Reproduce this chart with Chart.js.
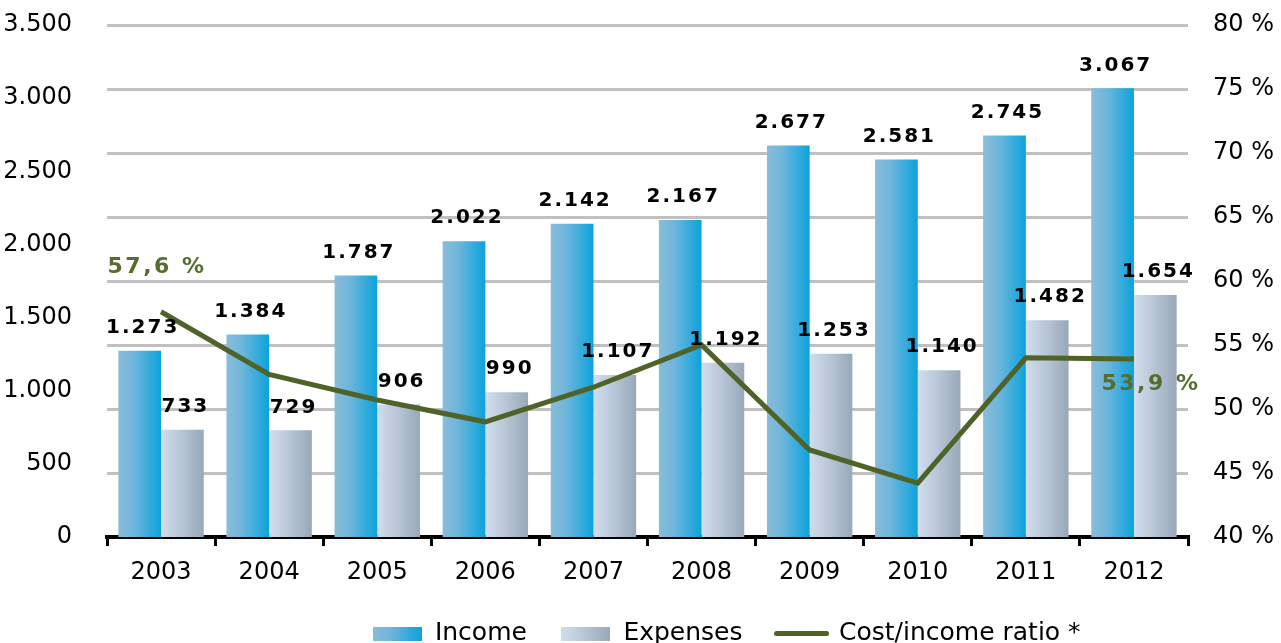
<!DOCTYPE html>
<html>
<head>
<meta charset="utf-8">
<title>Income, expenses and cost/income ratio 2003–2012</title>
<script src="https://cdn.jsdelivr.net/npm/chart.js@4.4.1/dist/chart.umd.min.js"></script>
<style>
  html, body { margin: 0; padding: 0; background: #fff; overflow: hidden; }
  #wrap { width: 1281px; height: 663px; }
</style>
</head>
<body>
<div id="wrap"><canvas id="chart"></canvas></div>
<script>
// --- data ---
const years = ['2003', '2004', '2005', '2006', '2007', '2008', '2009', '2010', '2011', '2012'];
const income = [1273, 1384, 1787, 2022, 2142, 2167, 2677, 2581, 2745, 3067];
const expenses = [733, 729, 906, 990, 1107, 1192, 1253, 1140, 1482, 1654];
const costIncomeRatio = [57.6, 52.7, 50.7, 49.0, 51.7, 55.0, 46.8, 44.2, 54.0, 53.9];
const amountTicks = [0, 500, 1000, 1500, 2000, 2500, 3000, 3500];
const ratioTicks = [40, 45, 50, 55, 60, 65, 70, 75, 80];
const seriesNames = ['Income', 'Expenses', 'Cost/income ratio *'];

// --- styling ---
const FONT = "'DejaVu Sans', Verdana, sans-serif";
const OLIVE = '#4f6228';
const OLIVE_TEXT = '#576d2e';
const CAT_PCT = 0.79;
const INCOME_STOPS = [[0, '#88bdd9'], [0.35, '#70b6db'], [1, '#0ba3dc']];
const EXPENSE_STOPS = [[0, '#d0ddec'], [0.4, '#bccadb'], [1, '#98a8b9']];

const fmtAmount = v => String(v).replace(/\B(?=(\d{3})+(?!\d))/g, '.');
const fmtPct = v => v.toFixed(1).replace('.', ',') + ' %';

// horizontal gradient across each single bar
function barFill(stops, side) {
  return ctx => {
    const chart = ctx.chart;
    const x = chart.scales.x;
    if (!chart.chartArea || !x || ctx.dataIndex === undefined) return stops[stops.length - 1][1];
    const center = x.getPixelForValue(ctx.dataIndex);
    const w = (x.width / years.length) * CAT_PCT / 2;
    const left = side === 0 ? center - w : center;
    const g = chart.ctx.createLinearGradient(left, 0, left + w, 0);
    stops.forEach(([o, c]) => g.addColorStop(o, c));
    return g;
  };
}

function swatch(stops) {
  const cv = document.createElement('canvas');
  cv.width = 49; cv.height = 14;
  const c = cv.getContext('2d');
  const g = c.createLinearGradient(0, 0, 49, 0);
  stops.forEach(([o, col]) => g.addColorStop(o, col));
  c.fillStyle = g;
  c.fillRect(0, 0, 49, 14);
  return cv;
}

// value labels over the bars, ratio labels at first and last point
const valueLabels = {
  id: 'valueLabels',
  afterDatasetsDraw(chart) {
    const c = chart.ctx;
    c.save();
    c.font = 'bold 20px ' + FONT;
    c.letterSpacing = '2px';
    c.textAlign = 'center';
    c.textBaseline = 'middle';
    c.fillStyle = '#000';
    [0, 1].forEach(di => {
      chart.getDatasetMeta(di).data.forEach((bar, i) => {
        c.fillText(fmtAmount(chart.data.datasets[di].data[i]), bar.x + 3, bar.y - 23);
      });
    });
    const pts = chart.getDatasetMeta(2).data;
    const n = pts.length - 1;
    c.font = 'bold 22px ' + FONT;
    c.letterSpacing = '2.5px';
    c.fillStyle = OLIVE_TEXT;
    c.fillText(fmtPct(costIncomeRatio[0]), pts[0].x - 4, pts[0].y - 44);
    c.fillText(fmtPct(costIncomeRatio[n]), pts[n].x + 17, pts[n].y + 25);
    c.restore();
  }
};

// legend row sits right of centre
const legendShift = {
  id: 'legendShift',
  afterLayout(chart) {
    chart.legend.left += 86;
    chart.legend.right += 86;
  }
};

// vertical axes: no extra room reserved above/below for the end labels
const flatAxis = width => s => {
  s.width = width;
  s.paddingTop = 0;
  s.paddingBottom = 0;
};

new Chart(document.getElementById('chart'), {
  data: {
    labels: years,
    datasets: [
      {
        type: 'bar', label: seriesNames[0], data: income, yAxisID: 'y',
        backgroundColor: barFill(INCOME_STOPS, 0), order: 1,
        categoryPercentage: CAT_PCT, barPercentage: 1
      },
      {
        type: 'bar', label: seriesNames[1], data: expenses, yAxisID: 'y',
        backgroundColor: barFill(EXPENSE_STOPS, 1), order: 1,
        categoryPercentage: CAT_PCT, barPercentage: 1
      },
      {
        type: 'line', label: seriesNames[2], data: costIncomeRatio, yAxisID: 'y1',
        borderColor: OLIVE, borderWidth: 5, pointRadius: 0, tension: 0, order: 0
      }
    ]
  },
  options: {
    responsive: true,
    maintainAspectRatio: false,
    animation: false,
    layout: { padding: { top: 25, left: 0, right: 0, bottom: 7 } },
    plugins: {
      tooltip: { enabled: false },
      legend: {
        position: 'bottom',
        labels: {
          usePointStyle: true,
          pointStyleWidth: 50,
          boxHeight: 14,
          padding: 34,
          color: '#000',
          font: { family: FONT, size: 25 },
          generateLabels: () => [
            { text: seriesNames[0], pointStyle: swatch(INCOME_STOPS), lineWidth: 0, datasetIndex: 0 },
            { text: seriesNames[1], pointStyle: swatch(EXPENSE_STOPS), lineWidth: 0, datasetIndex: 1 },
            { text: seriesNames[2], pointStyle: 'line', strokeStyle: OLIVE, lineWidth: 5, lineCap: 'round', datasetIndex: 2 }
          ]
        }
      }
    },
    scales: {
      x: {
        grid: { display: true, drawOnChartArea: false, drawTicks: true, tickLength: 9, color: '#000', lineWidth: 3 },
        border: { color: '#000', width: 4 },
        ticks: { color: '#000', font: { family: FONT, size: 24 }, padding: 12 },
        afterFit: s => { s.height = 50; }
      },
      y: {
        position: 'left',
        min: amountTicks[0], max: amountTicks[amountTicks.length - 1],
        afterBuildTicks: s => { s.ticks = amountTicks.map(v => ({ value: v })); },
        grid: { display: false },
        border: { display: false },
        ticks: { color: '#000', font: { family: FONT, size: 24 }, padding: 27, callback: v => fmtAmount(v) },
        afterFit: flatAxis(107)
      },
      y1: {
        position: 'right',
        min: ratioTicks[0], max: ratioTicks[ratioTicks.length - 1],
        afterBuildTicks: s => { s.ticks = ratioTicks.map(v => ({ value: v })); },
        grid: {
          drawTicks: false, lineWidth: 3,
          color: ctx => (ctx.tick && ctx.tick.value === ratioTicks[0]) ? 'rgba(0,0,0,0)' : '#c0c0c0'
        },
        border: { display: false },
        ticks: { color: '#000', font: { family: FONT, size: 24 }, padding: 25, callback: v => v + ' %' },
        afterFit: flatAxis(93)
      }
    }
  },
  plugins: [valueLabels, legendShift]
});
</script>
</body>
</html>
